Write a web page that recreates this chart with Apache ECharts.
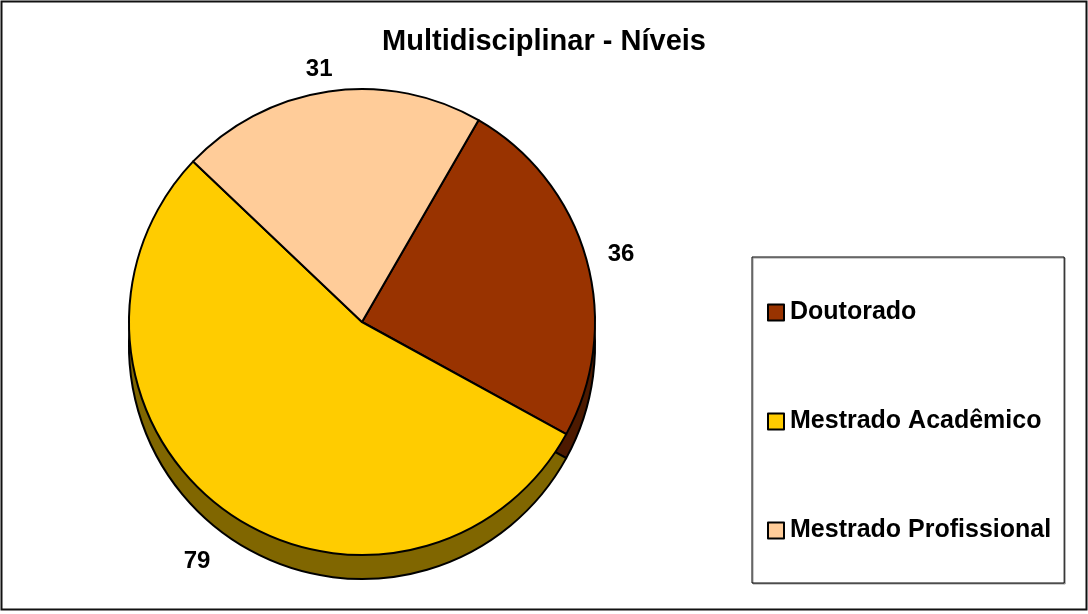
<!DOCTYPE html>
<html>
<head>
<meta charset="utf-8">
<script src="https://cdn.jsdelivr.net/npm/echarts@6/dist/echarts.min.js"></script>
<style>
  html, body { margin: 0; padding: 0; background: #fff; }
  #chart { width: 1088px; height: 614px; }
</style>
</head>
<body>
<div id="chart"></div>
<script>
// data
var categories = ["Doutorado", "Mestrado Acadêmico", "Mestrado Profissional"];
var values = [36, 79, 31];
var topColors = ["#993300", "#FFCC00", "#FFCC99"];
var sideColors = ["#4D1A00", "#806600", "#806633"];
// which slices put their value label on the top face / on the side band
var labelOnTop = [true, false, true];
var labelLen = [17, 34, 22];
var labelGap = [5, -6, -7];

var font = "'Liberation Sans', Arial, sans-serif";
var cx = 362, cy = 322, depth = 24, R = 233;

var chart = echarts.init(document.getElementById("chart"));

function slices(colors, onTop) {
  return categories.map(function (name, i) {
    return {
      name: name,
      value: values[i],
      itemStyle: { color: colors[i] },
      label: { show: labelOnTop[i] === onTop, distanceToLabelLine: labelGap[i] },
      labelLine: { length: labelLen[i] }
    };
  });
}

var labelStyle = {
  position: "outside",
  formatter: "{c}",
  fontFamily: font,
  fontWeight: "bold",
  fontSize: 24,
  color: "#000"
};

var option = {
  animation: false,
  backgroundColor: "#fff",
  title: {
    text: "Multidisciplinar - Níveis",
    left: "center",
    top: 22,
    textStyle: { fontFamily: font, fontWeight: "bold", fontSize: 29, color: "#000" }
  },
  legend: {
    orient: "vertical",
    left: 752,
    top: 257,
    padding: [43, 13, 40, 15],
    itemGap: 84,
    itemWidth: 16,
    itemHeight: 16,
    icon: "rect",
    backgroundColor: "#fff",
    borderColor: "#000",
    borderWidth: 1,
    shadowColor: "#999",
    shadowOffsetX: 1,
    shadowOffsetY: 1,
    shadowBlur: 0,
    selectedMode: false,
    data: categories,
    itemStyle: { borderColor: "#000", borderWidth: 2 },
    textStyle: {
      fontFamily: font,
      fontWeight: "bold",
      fontSize: 25,
      lineHeight: 25,
      color: "#000",
      padding: [0, 0, 0, 1]
    }
  },
  graphic: [{
    type: "rect",
    shape: { x: 1.5, y: 1.5, width: 1085, height: 608 },
    style: { fill: null, stroke: "#111", lineWidth: 2 },
    silent: true
  }],
  series: [
    {
      name: "top",
      type: "pie",
      z: 3,
      center: [cx, cy],
      radius: R,
      startAngle: 60,
      clockwise: true,
      avoidLabelOverlap: false,
      silent: true,
      itemStyle: { borderColor: "#000", borderWidth: 2 },
      label: labelStyle,
      labelLine: { show: false, length2: 0 },
      data: slices(topColors, true)
    },
    {
      name: "side",
      type: "pie",
      z: 2,
      center: [cx, cy + depth],
      radius: R,
      startAngle: 60,
      clockwise: true,
      avoidLabelOverlap: false,
      silent: true,
      itemStyle: { borderColor: "#000", borderWidth: 2 },
      label: labelStyle,
      labelLine: { show: false, length2: 0 },
      data: slices(sideColors, false)
    }
  ]
};

chart.setOption(option);
</script>
</body>
</html>
